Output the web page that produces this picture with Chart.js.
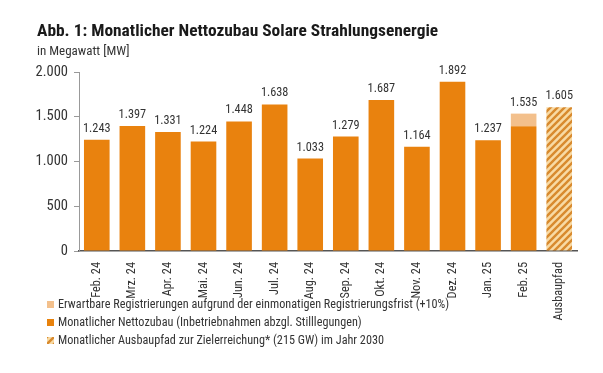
<!DOCTYPE html>
<html>
<head>
<meta charset="utf-8">
<script src="https://cdn.jsdelivr.net/npm/chart.js@4"></script>
<style>
	html, body { margin: 0; padding: 0; background: #fff; }
	#wrap { position: relative; width: 603px; height: 373px; overflow: hidden; }
	#c { position: absolute; left: 0; top: 0; }
	.title { position: absolute; left: 37px; top: 20px; font: bold 17.4px "Roboto Condensed", sans-serif; color: #1a1a1a; white-space: nowrap; }
	.sub { position: absolute; left: 37px; top: 43px; font: 13px "Roboto Condensed", sans-serif; color: #333; white-space: nowrap; }
	.legend { position: absolute; left: 47px; top: 295px; font: 12.2px "Roboto Condensed", sans-serif; color: #333; }
	.legend div { height: 18px; line-height: 18px; white-space: nowrap; }
	.legend span { display: inline-block; width: 7px; height: 7px; margin-right: 4px; vertical-align: 0px; }
</style>
</head>
<body>
<div id="wrap">
	<canvas id="c" width="603" height="373"></canvas>
	<div class="title">Abb. 1: Monatlicher Nettozubau Solare Strahlungsenergie</div>
	<div class="sub">in Megawatt [MW]</div>
	<div class="legend">
		<div><span style="background:#f3c08c"></span>Erwartbare Registrierungen aufgrund der einmonatigen Registrierungsfrist (+10%)</div>
		<div><span style="background:#e8820c"></span>Monatlicher Nettozubau (Inbetriebnahmen abzgl. Stilllegungen)</div>
		<div><span id="hatchKey"></span>Monatlicher Ausbaupfad zur Zielerreichung* (215 GW) im Jahr 2030</div>
	</div>
</div>
<script>
	var months = ['Feb. 24', 'Mrz. 24', 'Apr. 24', 'Mai. 24', 'Jun. 24', 'Jul. 24', 'Aug. 24', 'Sep. 24', 'Okt. 24', 'Nov. 24', 'Dez. 24', 'Jan. 25', 'Feb. 25', 'Ausbaupfad'];
	var nettozubau = [1243, 1397, 1331, 1224, 1448, 1638, 1033, 1279, 1687, 1164, 1892, 1237, 1395, null];
	var erwartbar = [null, null, null, null, null, null, null, null, null, null, null, null, 140, null];
	var ausbaupfad = [null, null, null, null, null, null, null, null, null, null, null, null, null, 1605];
	var yTicks = [0, 500, 1000, 1500, 2000];

	var ORANGE = '#e9820e';
	var LIGHT = '#f3c08c';
	var FONT = '"Roboto Condensed", sans-serif';

	function fmt(v) {
		return String(Math.round(v)).replace(/\B(?=(\d{3})+(?!\d))/g, '.');
	}

	function makeHatch() {
		var p = document.createElement('canvas');
		p.width = 7; p.height = 7;
		var g = p.getContext('2d');
		g.fillStyle = '#f8daa4';
		g.fillRect(0, 0, 7, 7);
		g.strokeStyle = '#d88a2e';
		g.lineWidth = 2.4;
		g.beginPath();
		g.moveTo(-1, 8); g.lineTo(8, -1);
		g.moveTo(-4.5, 4.5); g.lineTo(4.5, -4.5);
		g.moveTo(2.5, 11.5); g.lineTo(11.5, 2.5);
		g.stroke();
		return p;
	}
	var hatchCanvas = makeHatch();
	var ctx = document.getElementById('c').getContext('2d');
	var hatch = ctx.createPattern(hatchCanvas, 'repeat');
	document.getElementById('hatchKey').style.background = 'url(' + hatchCanvas.toDataURL() + ')';

	var valueLabels = {
		id: 'valueLabels',
		afterDatasetsDraw: function(chart) {
			var c = chart.ctx;
			c.save();
			c.font = '12.3px ' + FONT;
			c.fillStyle = '#333';
			c.textAlign = 'center';
			c.textBaseline = 'middle';
			months.forEach(function(m, i) {
				var total = 0, top = null, x = null;
				chart.data.datasets.forEach(function(ds, di) {
					var v = ds.data[i];
					if(v == null) return;
					total += v;
					var el = chart.getDatasetMeta(di).data[i];
					x = el.x;
					top = top == null ? el.y : Math.min(top, el.y);
				});
				if(top != null) {
					c.fillText(fmt(total), x, top - 11);
				}
			});
			c.restore();
		}
	};

	new Chart(ctx, {
		type: 'bar',
		data: {
			labels: months,
			datasets: [
				{ label: 'Nettozubau', data: nettozubau, backgroundColor: ORANGE },
				{ label: 'Erwartbar', data: erwartbar, backgroundColor: LIGHT },
				{ label: 'Ausbaupfad', data: ausbaupfad, backgroundColor: hatch }
			]
		},
		options: {
			responsive: false,
			animation: false,
			events: [],
			layout: { padding: { left: 0, right: 26, top: 72, bottom: 0 } },
			datasets: { bar: { barPercentage: 0.72, categoryPercentage: 1 } },
			plugins: { legend: { display: false }, tooltip: { enabled: false } },
			scales: {
				x: {
					stacked: true,
					grid: { display: false },
					border: { color: '#555', width: 1.5 },
					ticks: { minRotation: 90, maxRotation: 90, autoSkip: false, color: '#333', padding: 3, font: { family: FONT, size: 12.3 } },
					afterFit: function(s) { s.height = 122; }
				},
				y: {
					stacked: true,
					min: 0, max: 2000,
					afterBuildTicks: function(s) { s.ticks = yTicks.map(function(v) { return {value: v}; }); },
					grid: { drawOnChartArea: false, tickLength: 5, color: '#999' },
					border: { color: '#999' },
					ticks: { color: '#333', padding: 6, font: { family: FONT, size: 14.5 }, callback: function(v) { return fmt(v); } },
					afterFit: function(s) { s.width = 79; }
				}
			}
		},
		plugins: [valueLabels]
	});
</script>
</body>
</html>
